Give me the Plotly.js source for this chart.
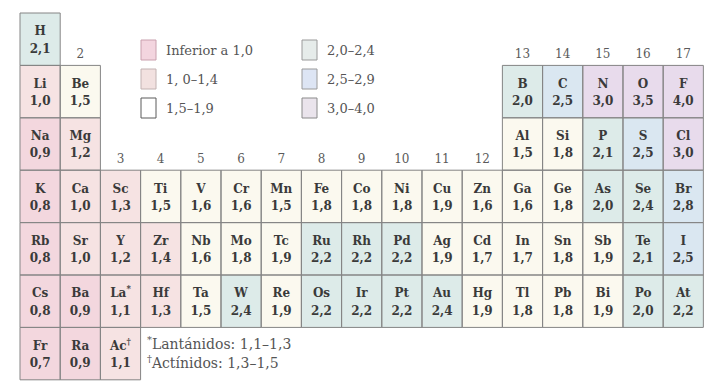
<!DOCTYPE html>
<html>
<head>
<meta charset="utf-8">
<script src="https://cdn.plot.ly/plotly-3.0.1.min.js"></script>
<style>html,body{margin:0;padding:0;background:#fff;}#chart{width:709px;height:386px;}</style>
</head>
<body>
<div id="chart"></div>
<script>
// ---- data ----
const symbols = ['H',
  'Li','Be','B','C','N','O','F',
  'Na','Mg','Al','Si','P','S','Cl',
  'K','Ca','Sc','Ti','V','Cr','Mn','Fe','Co','Ni','Cu','Zn','Ga','Ge','As','Se','Br',
  'Rb','Sr','Y','Zr','Nb','Mo','Tc','Ru','Rh','Pd','Ag','Cd','In','Sn','Sb','Te','I',
  'Cs','Ba','La<sup>*</sup>','Hf','Ta','W','Re','Os','Ir','Pt','Au','Hg','Tl','Pb','Bi','Po','At',
  'Fr','Ra','Ac<sup>†</sup>'];
const values = [2.1,
  1.0,1.5,2.0,2.5,3.0,3.5,4.0,
  0.9,1.2,1.5,1.8,2.1,2.5,3.0,
  0.8,1.0,1.3,1.5,1.6,1.6,1.5,1.8,1.8,1.8,1.9,1.6,1.6,1.8,2.0,2.4,2.8,
  0.8,1.0,1.2,1.4,1.6,1.8,1.9,2.2,2.2,2.2,1.9,1.7,1.7,1.8,1.9,2.1,2.5,
  0.8,0.9,1.1,1.3,1.5,2.4,1.9,2.2,2.2,2.2,2.4,1.9,1.8,1.8,1.9,2.0,2.2,
  0.7,0.9,1.1];
const cols = [1,
  1,2,13,14,15,16,17,
  1,2,13,14,15,16,17,
  1,2,3,4,5,6,7,8,9,10,11,12,13,14,15,16,17,
  1,2,3,4,5,6,7,8,9,10,11,12,13,14,15,16,17,
  1,2,3,4,5,6,7,8,9,10,11,12,13,14,15,16,17,
  1,2,3];
const rows = [1,
  2,2,2,2,2,2,2,
  3,3,3,3,3,3,3,
  4,4,4,4,4,4,4,4,4,4,4,4,4,4,4,4,4,
  5,5,5,5,5,5,5,5,5,5,5,5,5,5,5,5,5,
  6,6,6,6,6,6,6,6,6,6,6,6,6,6,6,6,6,
  7,7,7];
const groupNumbers = [2,3,4,5,6,7,8,9,10,11,12,13,14,15,16,17];
const thresholds = [1.0,1.5,2.0,2.5,3.0];
const rangeLabels = ['Inferior a 1,0','1, 0–1,4','1,5–1,9','2,0–2,4','2,5–2,9','3,0–4,0'];
const footnotes = ['<sup>*</sup>Lantánidos: 1,1–1,3','<sup>†</sup>Actínidos: 1,3–1,5'];

// ---- styles ----
const cellColors = ['#f3d7de','#f6e3e3','#fbf9ef','#ddebe9','#dae7f1','#e8dbec'];
const legendFills = ['#f3d5df','#f2e1e0','#ffffff','#e6ecea','#dde5f4','#eae4ec'];
const legendLines = ['#c9a0ae','#c2b2b2','#5a5a5a','#9a9a9a','#9a9a9a','#8a8a8a'];
const serif = 'DejaVu Serif, Liberation Serif, serif';

const cat = v => { let c = 0; thresholds.forEach(t => { if (v >= t) c++; }); return c; };
const zCat = values.map(cat);
const colorscale = [];
cellColors.forEach((c,i) => { colorscale.push([i/6, c]); colorscale.push([(i+1)/6, c]); });
const fmt = v => v.toFixed(1).replace('.', ',');

const heat = {
  type: 'heatmap', x: cols, y: rows, z: zCat,
  colorscale: colorscale, zmin: 0, zmax: 6, showscale: false, hoverinfo: 'skip'
};
const symTrace = {
  type: 'scatter', mode: 'text', x: cols, y: rows.map(r => r - 0.13), text: symbols,
  textfont: {family: serif, size: 12, color: '#3a3a3a', weight: 'bold'}, hoverinfo: 'skip'
};
const valTrace = {
  type: 'scatter', mode: 'text', x: cols, y: rows.map(r => r + 0.2), text: values.map(fmt),
  textfont: {family: serif, size: 12, color: '#3a3a3a', weight: 'bold'}, hoverinfo: 'skip'
};
const firstRow = g => Math.min(...rows.filter((r,i) => cols[i] === g));
const grpTrace = {
  type: 'scatter', mode: 'text', x: groupNumbers,
  y: groupNumbers.map(g => firstRow(g) - 0.7), text: groupNumbers.map(String),
  textfont: {family: serif, size: 12, color: '#5a5a5a'}, hoverinfo: 'skip'
};

const shapes = cols.map((c,i) => ({
  type: 'rect', xref: 'x', yref: 'y', x0: c - 0.5, x1: c + 0.5, y0: rows[i] - 0.5, y1: rows[i] + 0.5,
  line: {color: '#858585', width: 1}, fillcolor: 'rgba(0,0,0,0)'
}));

const annotations = [];
// legend
const W = 709, H = 386;
rangeLabels.forEach((lab, i) => {
  const colX = i < 3 ? 141 : 302;
  const cy = [50, 79, 108][i % 3];
  shapes.push({type: 'rect', xref: 'paper', yref: 'paper',
    x0: colX / W, x1: (colX + 15) / W, y0: 1 - (cy - 10) / H, y1: 1 - (cy + 10) / H,
    fillcolor: legendFills[i], line: {color: legendLines[i], width: 1}});
  annotations.push({xref: 'paper', yref: 'paper', x: (colX + 23) / W, y: 1 - cy / H,
    xanchor: 'left', yanchor: 'middle', text: lab, showarrow: false,
    font: {family: serif, size: 13, color: '#555'}});
});
footnotes.forEach((t, i) => {
  annotations.push({xref: 'x', yref: 'y', x: 3.6, y: 6.8 + i * 0.36, xanchor: 'left', yanchor: 'middle',
    text: t, showarrow: false, font: {family: serif, size: 14, color: '#555'}});
});

const layout = {
  width: W, height: H, margin: {l: 0, r: 0, t: 0, b: 0},
  paper_bgcolor: '#ffffff', plot_bgcolor: '#ffffff', showlegend: false,
  xaxis: {range: [0.0025, 17.64], visible: false, fixedrange: true},
  yaxis: {range: [7.618, 0.252], visible: false, fixedrange: true},
  shapes: shapes, annotations: annotations
};
Plotly.newPlot('chart', [heat, symTrace, valTrace, grpTrace], layout, {staticPlot: true, displayModeBar: false});
</script>
</body>
</html>
